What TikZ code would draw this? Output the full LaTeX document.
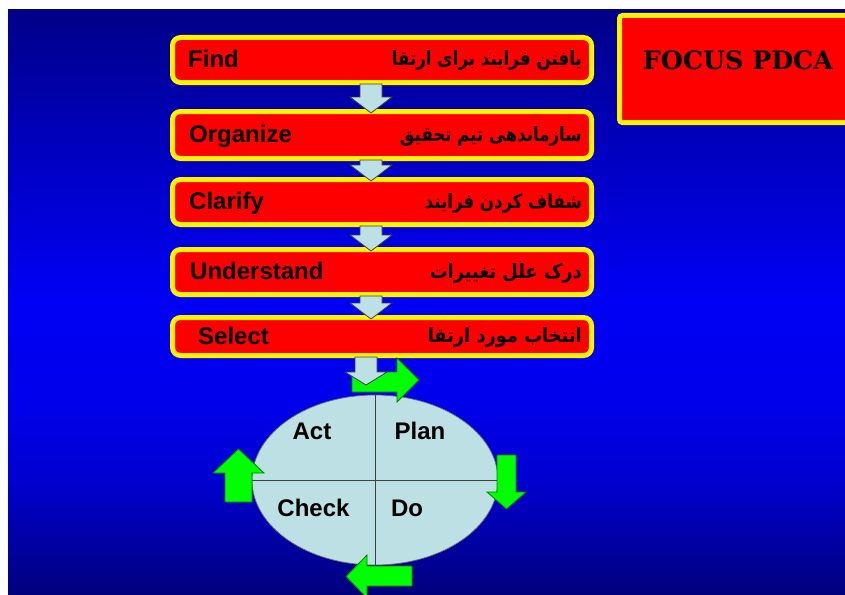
\documentclass[tikz,border=0pt]{standalone}
\usepackage{fontspec}
\usepackage{graphicx}
\setmainfont{Liberation Sans}
\newfontfamily\arabicfont[Script=Arabic]{DejaVu Sans}
\newfontfamily\focusfont{DejaVu Serif}
\TeXXeTstate=1
\usetikzlibrary{calc,shapes.geometric}
\definecolor{bgA}{RGB}{0,0,135}
\definecolor{bgB}{RGB}{0,0,180}
\definecolor{bgC}{RGB}{0,0,245}
\definecolor{bgD}{RGB}{0,0,235}
\definecolor{bgE}{RGB}{0,0,208}
\definecolor{bgF}{RGB}{0,0,125}
\definecolor{lblue}{RGB}{188,224,228}
\definecolor{ggreen}{RGB}{0,255,0}
\tikzset{
  stepbox/.style={draw=yellow, line width=5pt, fill=red, rounded corners=8pt,
    minimum width=419pt, inner sep=0pt},
  entext/.style={font=\fontsize{24}{24}\selectfont\bfseries, anchor=base west, inner sep=0pt},
  fatext/.style={anchor=base east, inner sep=0pt},
  pdtext/.style={font=\fontsize{24}{24}\selectfont\bfseries, anchor=base, inner sep=0pt},
  lbarrow/.style={fill=lblue, draw=black!75, line width=0.8pt, line join=miter},
  garrow/.style={fill=ggreen, draw=black!50!green, line width=0.8pt, line join=miter},
}
\newcommand\dnarrow[3]{%
  \draw[lbarrow] ($(#1.south -| #3)+(-11,-1)$) -- ($(#1.south -| #3)+(11,-1)$)
    -- ($(#2.north -| #3)+(11,-12)$) -- ($(#2.north -| #3)+(21,-12)$)
    -- ($(#2.north -| #3)+(0,4)$) -- ($(#2.north -| #3)+(-21,-12)$)
    -- ($(#2.north -| #3)+(-11,-12)$) -- cycle;}
\newcommand\fa[2]{\resizebox{#1}{15pt}{\arabicfont\bfseries #2}}
\begin{document}
\begin{tikzpicture}[x=1pt,y=-1pt]
\useasboundingbox (0,0) rectangle (845,594);
\fill[white] (0,0) rectangle (845,594);
% background gradient
\shade[top color=bgA, bottom color=bgB] (8,10) rectangle (845,120.5);
\shade[top color=bgB, bottom color=bgC] (8,120) rectangle (845,300.5);
\shade[top color=bgC, bottom color=bgD] (8,300) rectangle (845,400.5);
\shade[top color=bgD, bottom color=bgE] (8,400) rectangle (845,480.5);
\shade[top color=bgE, bottom color=bgF] (8,480) rectangle (845,594);
% FOCUS PDCA box
\node[draw=yellow, line width=5pt, fill=red, rounded corners=3pt, inner sep=0pt,
  minimum width=233pt, minimum height=107pt] (focus) at (736,69) {};
\node[anchor=base, inner sep=0pt] (focusT) at (738,70)
  {\resizebox{190pt}{!}{\focusfont\bfseries FOCUS PDCA}};
% steps
\node[stepbox, minimum height=45pt] (find) at (382,60) {};
\node[stepbox, minimum height=47pt] (org) at (382,135) {};
\node[stepbox, minimum height=45pt] (clar) at (382,202) {};
\node[stepbox, minimum height=45pt] (und) at (382,272) {};
\node[stepbox, minimum height=38pt] (sel) at (382,336.5) {};
\node[entext] (findE) at (188,67) {Find};
\node[entext] (orgE) at (189,142) {Organize};
\node[entext] (clarE) at (189,209) {Clarify};
\node[entext] (undE) at (190,279) {Understand};
\node[entext] (selE) at (198,344) {Select};
\node[fatext] (findF) at (582,66) {\fa{190pt}{\beginR یافتن فرایند برای ارتقا\endR}};
\node[fatext] (orgF) at (582,141) {\fa{182pt}{\beginR سازماندهی تیم تحقیق\endR}};
\node[fatext] (clarF) at (582,208) {\fa{157pt}{\beginR شفاف کردن فرایند\endR}};
\node[fatext] (undF) at (582,278) {\fa{152pt}{\beginR درک علل تغییرات\endR}};
\node[fatext] (selF) at (582,342) {\fa{154pt}{\beginR انتخاب مورد ارتقا\endR}};
% down arrows
\coordinate (ax) at (371,0);
\dnarrow{find}{org}{ax}
\dnarrow{org}{clar}{ax}
\dnarrow{clar}{und}{ax}
\dnarrow{und}{sel}{ax}
% PDCA ellipse
\node[ellipse, fill=lblue, draw=black!60, line width=0.7pt, inner sep=0pt,
  minimum width=246pt, minimum height=170pt] (pdca) at (375,480) {};
\draw[black!75, line width=0.8pt] (pdca.north) -- (pdca.south);
\draw[black!75, line width=0.8pt] (pdca.west) -- (pdca.east);
\node[pdtext] (act) at (312,439) {Act};
\node[pdtext] (plan) at (420,439) {Plan};
\node[pdtext] (check) at (313.5,516) {Check};
\node[pdtext] (do) at (407,516) {Do};
% green cycle arrows
\draw[garrow] (352,372) -- (397,372) -- (397,358) -- (419,380) -- (397,402) -- (397,392) -- (352,392) -- cycle;
\draw[garrow] (497,455) -- (516,455) -- (516,492) -- (526,492) -- (506.5,509) -- (487,492) -- (497,492) -- cycle;
\draw[garrow] (412,566) -- (367,566) -- (367,555) -- (346,576.5) -- (367,598) -- (367,586) -- (412,586) -- cycle;
\draw[garrow] (225,502) -- (225,473) -- (213,473) -- (238.5,449) -- (264,473) -- (252,473) -- (252,502) -- cycle;
% arrow from Select into the cycle
\coordinate (ax2) at (366,0);
\coordinate (selTip) at (366,385);
\draw[lbarrow] ($(sel.south -| ax2)+(-11,-1)$) -- ($(sel.south -| ax2)+(11,-1)$)
  -- ($(selTip)+(11,-13)$) -- ($(selTip)+(21,-13)$) -- (selTip)
  -- ($(selTip)+(-21,-13)$) -- ($(selTip)+(-11,-13)$) -- cycle;
\end{tikzpicture}
\end{document}
